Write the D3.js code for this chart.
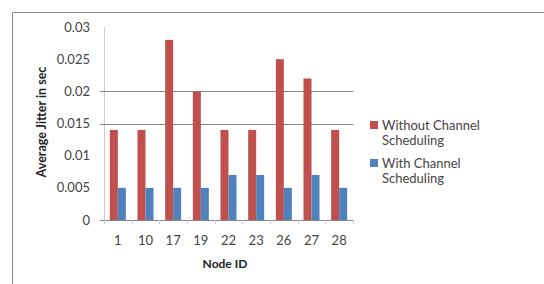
<!DOCTYPE html>
<html><head><meta charset="utf-8">
<script src="https://cdn.jsdelivr.net/npm/d3@7"></script>
<style>body{margin:0;background:#fff}text{font-family:Lato,"Open Sans",sans-serif}</style>
</head><body><svg id="c" width="544" height="284"></svg>
<script>
const categories = ["1","10","17","19","22","23","26","27","28"];
const withoutScheduling = [0.014,0.014,0.028,0.020,0.014,0.014,0.025,0.022,0.014];
const withScheduling = [0.005,0.005,0.005,0.005,0.007,0.007,0.005,0.007,0.005];
const yTicks = [0,0.005,0.01,0.015,0.02,0.025,0.03];
const yTickLabels = ["0","0.005","0.01","0.015","0.02","0.025","0.03"];
const gridValues = [0.015,0.02];
const seriesNames = ["Without Channel Scheduling","With Channel Scheduling"];
const colors = ["#C0504D","#4F81BD"];

const svg = d3.select("#c");
// outer frame
svg.append("path").attr("d","M12.5,284 V12.5 H544").attr("fill","none").attr("stroke","#888").attr("stroke-width",1);

const x0 = 104, x1 = 353, yTop = 27, yBot = 220;
const x = d3.scaleBand().domain(categories).range([x0,x1]);
const y = d3.scaleLinear().domain([0,0.03]).range([yBot,yTop]);

// vertical axis line (light)
svg.append("line").attr("x1",x0+0.5).attr("x2",x0+0.5).attr("y1",yTop).attr("y2",yBot).attr("stroke","#ccc");

// gridlines
svg.selectAll(".grid").data(gridValues).enter().append("line")
  .attr("x1",x0-4).attr("x2",x1).attr("y1",d=>Math.round(y(d))+0.5).attr("y2",d=>Math.round(y(d))+0.5)
  .attr("stroke","#888").attr("stroke-width",1);

// y tick labels
svg.selectAll(".yl").data(yTicks).enter().append("text")
  .attr("x",90).attr("y",d=>y(d)+4.5).attr("text-anchor","end")
  .attr("font-size",13).attr("fill","#444").text((d,i)=>yTickLabels[i]);

// bars
const bw = 8;
const groups = [withoutScheduling, withScheduling];
groups.forEach((vals,si)=>{
  svg.selectAll(".b"+si).data(vals).enter().append("rect")
    .attr("x",(d,i)=>x(categories[i])+x.bandwidth()/2-bw+si*bw)
    .attr("y",d=>y(d)).attr("width",bw).attr("height",d=>yBot-y(d))
    .attr("fill",colors[si]);
});

// x axis
svg.append("line").attr("x1",x0-4).attr("x2",x1).attr("y1",yBot+0.5).attr("y2",yBot+0.5).attr("stroke","#888");
const bounds = categories.map(c=>x(c)).concat([x1]);
svg.selectAll(".xt").data(bounds).enter().append("line")
  .attr("x1",d=>Math.round(d)+0.5).attr("x2",d=>Math.round(d)+0.5).attr("y1",yBot).attr("y2",yBot+4).attr("stroke","#ccc");
svg.selectAll(".xl").data(categories).enter().append("text")
  .attr("x",d=>x(d)+x.bandwidth()/2).attr("y",245).attr("text-anchor","middle")
  .attr("font-size",13).attr("fill","#444").text(d=>d);

// axis titles
svg.append("text").attr("x",225).attr("y",268).attr("text-anchor","middle")
  .attr("font-size",12).attr("font-weight","bold").attr("fill","#222").text("Node ID");
svg.append("text").attr("transform","translate(45.5,122) rotate(-90)").attr("text-anchor","middle")
  .attr("font-size",12.5).attr("font-weight","bold").attr("fill","#222").text("Average Jitter in sec");

// legend
const leg = [{y:121, lines:["Without Channel","Scheduling"]},{y:159, lines:["With Channel","Scheduling"]}];
leg.forEach((l,i)=>{
  svg.append("rect").attr("x",370).attr("y",l.y).attr("width",8).attr("height",8).attr("fill",colors[i]);
  l.lines.forEach((t,j)=>{
    svg.append("text").attr("x",382).attr("y",l.y+9+j*15).attr("font-size",13).attr("fill","#444").text(t);
  });
});
</script></body></html>
